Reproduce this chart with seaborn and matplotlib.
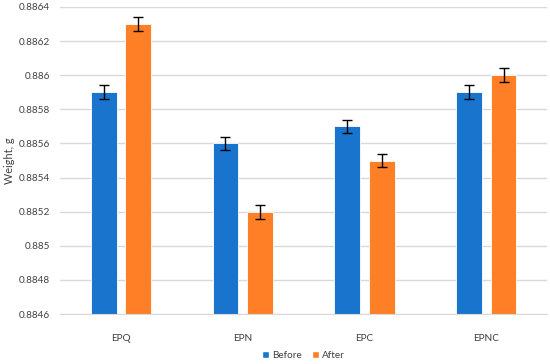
import matplotlib
matplotlib.use("Agg")
import matplotlib.pyplot as plt
import matplotlib.ticker as mticker
import seaborn as sns
import pandas as pd
import numpy as np

categories = ["EPQ", "EPN", "EPC", "EPNC"]
before = [0.8859, 0.8856, 0.8857, 0.8859]
after = [0.8863, 0.8852, 0.8855, 0.8860]
before_err = [0.00004, 0.00004, 0.00004, 0.00004]
after_err = [0.00004, 0.00004, 0.00004, 0.00004]
series = ["Before", "After"]
colors = ["#1874CD", "#FF7F27"]

df = pd.DataFrame({
    "cat": categories * 2,
    "series": [series[0]] * 4 + [series[1]] * 4,
    "value": before + after,
    "err": before_err + after_err,
})

sns.set_style("white")
plt.rcParams["font.family"] = ["Lato", "DejaVu Sans"]

fig = plt.figure(figsize=(5.5, 3.64), dpi=100)
ax = fig.add_axes([0.109, 0.137, 0.886, 0.844])

sns.barplot(data=df, x="cat", y="value", hue="series", palette=colors,
            errorbar=None, width=0.565, gap=0.25, ax=ax, legend=True,
            saturation=1)
ax.set_ylim(0.8846, 0.8864)

# errorbars from patch positions
for bars, s in zip(ax.containers, series):
    sub = df[df["series"] == s]
    for rect, (_, row) in zip(bars, sub.iterrows()):
        cx = rect.get_x() + rect.get_width() / 2
        ax.errorbar(cx, row["value"], yerr=row["err"], fmt="none",
                    ecolor="black", elinewidth=1.0, capsize=3.5, capthick=1.0, zorder=5)
    for rect in bars:
        rect.set_edgecolor("white")
        rect.set_linewidth(0.6)

ax.yaxis.set_major_locator(mticker.MultipleLocator(0.0002))
ax.yaxis.set_major_formatter(mticker.FuncFormatter(lambda v, p: ("%.4f" % v).rstrip("0").rstrip(".")))
ax.grid(axis="y", color="#d9d9d9", linewidth=1.0)
ax.set_axisbelow(True)
for sp in ["top", "right", "left"]:
    ax.spines[sp].set_visible(False)
ax.spines["bottom"].set_color("#d9d9d9")
ax.tick_params(axis="both", length=0, labelsize=7.2, colors="#404040")
ax.tick_params(axis="x", pad=14)
ax.tick_params(axis="y", pad=7)
ax.set_xlabel("")
ax.set_ylabel("Weight, g", fontsize=7.8, color="#404040")
ax.yaxis.set_label_coords(-0.093, 0.5)
ax.set_xlim(-0.5, 3.5)

leg = ax.legend(loc="upper center", bbox_to_anchor=(0.5, -0.1), ncol=2, frameon=False,
                fontsize=7.2, handlelength=0.7, handleheight=0.7, columnspacing=1.0,
                handletextpad=0.3, borderaxespad=0.2)
for t in leg.get_texts():
    t.set_color("#404040")

fig.savefig("out.png", dpi=100)
